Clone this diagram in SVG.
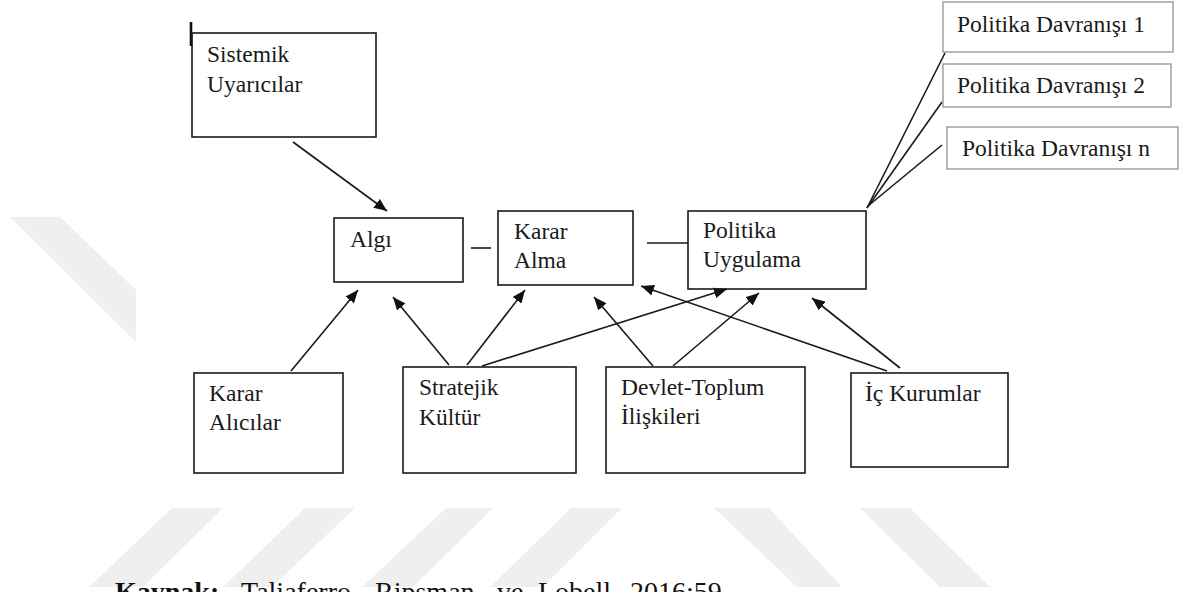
<svg xmlns="http://www.w3.org/2000/svg" width="1187" height="592" viewBox="0 0 1187 592">
<style>
.bg{fill:#ffffff}
.wm{fill:#efefef}
.box{fill:none;stroke:#1a1a1a;stroke-width:1.6}
.gbox{fill:#ffffff;stroke:#9a9a9a;stroke-width:1.4}
.lbl{font-family:"Liberation Serif","Times New Roman",serif;font-size:23.5px;fill:#1a1a1a}
.con{stroke:#1a1a1a;stroke-width:1.6;fill:none}
.arr{stroke:#1a1a1a;stroke-width:1.6;fill:none;marker-end:url(#ah)}
.cap{font-family:"Liberation Serif","Times New Roman",serif;font-size:28px;fill:#111}
</style>
<defs>
<marker id="ah" markerUnits="userSpaceOnUse" markerWidth="14" markerHeight="11" refX="13" refY="5.5" orient="auto">
<path d="M0,0 L13,5.5 L0,11 z" fill="#111"/>
</marker>
</defs>
<rect class="bg" x="0" y="0" width="1187" height="592"/>
<g id="watermark">
<polygon class="wm" points="10,217 60,217 136,290 136,342"/>
<polygon class="wm" points="172,508 223,508 143,587 89,587"/>
<polygon class="wm" points="305,508 355,508 272,587 223,587"/>
<polygon class="wm" points="446,508 493,508 413,587 362,587"/>
<polygon class="wm" points="571,508 622,508 543,587 490,587"/>
<polygon class="wm" points="714,508 769,508 842,587 797,587"/>
<polygon class="wm" points="860,508 910,508 990,587 940,587"/>
</g>
<g id="connectors">
<line class="con" x1="471" y1="248" x2="491" y2="248"/>
<line class="con" x1="647" y1="243" x2="688" y2="243"/>
<line class="con" x1="867" y1="208" x2="945" y2="53"/>
<line class="con" x1="867" y1="208" x2="942" y2="102"/>
<line class="con" x1="868" y1="206" x2="942" y2="145"/>
<line class="arr" x1="293" y1="142" x2="387" y2="211"/>
<line class="arr" x1="291" y1="371" x2="358" y2="290"/>
<line class="arr" x1="449" y1="365" x2="393" y2="297"/>
<line class="arr" x1="467" y1="365" x2="525" y2="290"/>
<line class="arr" x1="482" y1="366" x2="727" y2="289"/>
<line class="arr" x1="653" y1="366" x2="594" y2="297"/>
<line class="arr" x1="673" y1="366" x2="759" y2="293"/>
<line class="arr" x1="887" y1="371" x2="641" y2="286"/>
<line class="arr" x1="900" y1="368" x2="812" y2="298"/>
</g>
<g id="sistemik">
<line x1="191" y1="22" x2="191" y2="46" stroke="#111" stroke-width="2.6"/>
<rect class="box" x="192" y="33" width="184" height="104"/>
<text class="lbl" x="207" y="62">Sistemik</text>
<text class="lbl" x="207" y="92">Uyarıcılar</text>
</g>
<g id="algi">
<rect class="box" x="334" y="218" width="129" height="64"/>
<text class="lbl" x="350" y="247">Algı</text>
</g>
<g id="karar-alma">
<rect class="box" x="498" y="211" width="135" height="74"/>
<text class="lbl" x="514" y="239">Karar</text>
<text class="lbl" x="514" y="268">Alma</text>
</g>
<g id="politika-uygulama">
<rect class="box" x="688" y="211" width="178" height="78"/>
<text class="lbl" x="703" y="238">Politika</text>
<text class="lbl" x="703" y="267">Uygulama</text>
</g>
<g id="davranis-1">
<rect class="gbox" x="943" y="2" width="230" height="50"/>
<text class="lbl" x="957" y="32">Politika Davranışı 1</text>
</g>
<g id="davranis-2">
<rect class="gbox" x="943" y="64" width="228" height="43"/>
<text class="lbl" x="957" y="93">Politika Davranışı 2</text>
</g>
<g id="davranis-n">
<rect class="gbox" x="947" y="127" width="231" height="42"/>
<text class="lbl" x="962" y="156">Politika Davranışı n</text>
</g>
<g id="karar-alicilar">
<rect class="box" x="194" y="373" width="149" height="100"/>
<text class="lbl" x="209" y="401">Karar</text>
<text class="lbl" x="209" y="430">Alıcılar</text>
</g>
<g id="stratejik-kultur">
<rect class="box" x="403" y="367" width="173" height="106"/>
<text class="lbl" x="419" y="395">Stratejik</text>
<text class="lbl" x="419" y="425">Kültür</text>
</g>
<g id="devlet-toplum">
<rect class="box" x="606" y="367" width="199" height="106"/>
<text class="lbl" x="621" y="395">Devlet-Toplum</text>
<text class="lbl" x="621" y="424">İlişkileri</text>
</g>
<g id="ic-kurumlar">
<rect class="box" x="851" y="373" width="157" height="94"/>
<text class="lbl" x="865" y="401">İç Kurumlar</text>
</g>
<g id="caption">
<text class="cap" x="115" y="601" font-weight="bold">Kaynak:</text>
<text class="cap" x="241" y="601">Taliaferro,</text>
<text class="cap" x="375" y="601">Ripsman</text>
<text class="cap" x="497" y="601">ve</text>
<text class="cap" x="538" y="601">Lobell</text>
<text class="cap" x="630" y="601">2016:59</text>
</g>
</svg>
